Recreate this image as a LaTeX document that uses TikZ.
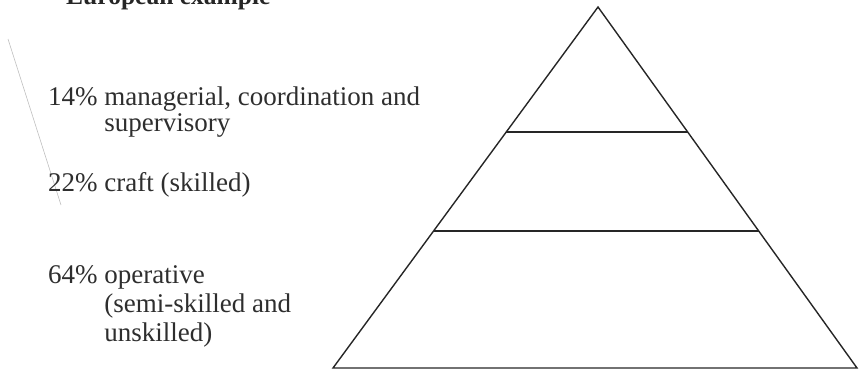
\documentclass[tikz,border=0pt]{standalone}
\usepackage{fontspec}
\setmainfont{Liberation Serif}
\usetikzlibrary{calc}
\begin{document}
\begin{tikzpicture}[x=1pt,y=-1pt,
  edge/.style={draw=black!85,line width=1.4pt,line join=miter},
  lbl/.style={anchor=base west,inner sep=0pt,text=black!82,font=\fontsize{27}{29}\selectfont},
  ttl/.style={anchor=base west,inner sep=0pt,text=black!85,font=\fontsize{25.5}{28}\selectfont\bfseries}]
\useasboundingbox (0,0) rectangle (859,372);
% faint scan mark
\draw[black!25,line width=0.6pt] (8,39) -- (61,205);
% title
\node[ttl] (title) at (66,5) {European example};
% pyramid
\coordinate (apex) at (598,7);
\coordinate (bl) at (333,368);
\coordinate (br) at (857,368);
\draw[edge] (apex) -- (bl) -- (br) -- cycle;
\coordinate (l1a) at ($(apex)!0.3463!(bl)$);
\coordinate (l1b) at ($(apex)!0.3463!(br)$);
\coordinate (l2a) at ($(apex)!0.6205!(bl)$);
\coordinate (l2b) at ($(apex)!0.6205!(br)$);
\draw[edge] (l1a) -- (l1b);
\draw[edge] (l2a) -- (l2b);
% labels
\node[lbl] (a1) at (48,105) {14\% managerial, coordination and};
\node[lbl] (a2) at (48,131) {\hphantom{14\% }supervisory};
\node[lbl] (b1) at (48,191) {22\% craft (skilled)};
\node[lbl] (c1) at (48,283) {64\% operative};
\node[lbl] (c2) at (48,312) {\hphantom{64\% }(semi-skilled and};
\node[lbl] (c3) at (48,341) {\hphantom{64\% }unskilled)};
\end{tikzpicture}
\end{document}
